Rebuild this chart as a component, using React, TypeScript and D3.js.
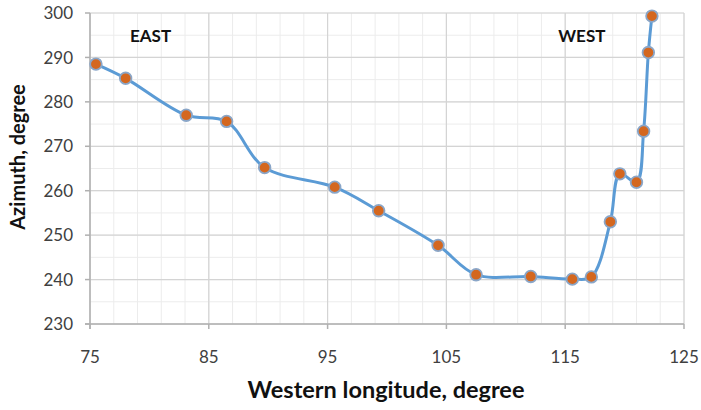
import React from "react";
import * as d3 from "d3";

const longitude = [75.5, 78.0, 83.1, 86.5, 89.7, 95.6, 99.3, 104.3, 107.5, 112.1, 115.6, 117.2, 118.8, 119.6, 121.0, 121.6, 122.0, 122.3];
const azimuth = [288.5, 285.3, 277.0, 275.6, 265.2, 260.8, 255.5, 247.7, 241.1, 240.7, 240.1, 240.6, 253.0, 263.8, 261.9, 273.4, 291.1, 299.3];
const xTicks = [75, 85, 95, 105, 115, 125];
const yTicks = [230, 240, 250, 260, 270, 280, 290, 300];
const regionLabels = [
  { text: "EAST", x: 80.1 },
  { text: "WEST", x: 116.4 },
];

const W = 701, H = 410;
const left = 90, right = 684, top = 13, bottom = 324;

export default function App() {
  const x = d3.scaleLinear().domain([75, 125]).range([left, right]);
  const y = d3.scaleLinear().domain([230, 300]).range([bottom, top]);
  const xMinor = d3.range(75, 125.01, 2);
  const yMinor = d3.range(230, 300.01, 5);
  const pts: [number, number][] = longitude.map((v, i) => [v, azimuth[i]]);
  const line = d3
    .line<[number, number]>()
    .x((d) => x(d[0]))
    .y((d) => y(d[1]))
    .curve(d3.curveCatmullRom.alpha(0.5));
  const font = "Lato, 'Open Sans', sans-serif";
  return (
    <svg width={W} height={H} style={{ position: "absolute", left: 0, top: 0, background: "#fff" }} fontFamily={font}>
      {xMinor.map((v) => (
        <line key={"xm" + v} x1={x(v)} x2={x(v)} y1={top} y2={bottom} stroke="#ececec" strokeWidth={1} />
      ))}
      {yMinor.map((v) => (
        <line key={"ym" + v} x1={left} x2={right} y1={y(v)} y2={y(v)} stroke="#ececec" strokeWidth={1} />
      ))}
      {xTicks.map((v) => (
        <line key={"xg" + v} x1={x(v)} x2={x(v)} y1={top} y2={bottom} stroke="#d4d4d4" strokeWidth={1.2} />
      ))}
      {yTicks.map((v) => (
        <line key={"yg" + v} x1={left} x2={right} y1={y(v)} y2={y(v)} stroke="#d4d4d4" strokeWidth={1.2} />
      ))}
      <line x1={left} x2={left} y1={top} y2={bottom + 5} stroke="#b0b0b0" strokeWidth={1.5} />
      <line x1={left - 5} x2={right} y1={bottom} y2={bottom} stroke="#b0b0b0" strokeWidth={1.5} />
      {yTicks.map((v) => (
        <line key={"yt" + v} x1={left - 5} x2={left} y1={y(v)} y2={y(v)} stroke="#b0b0b0" strokeWidth={1.5} />
      ))}
      {xTicks.map((v) => (
        <line key={"xt" + v} x1={x(v)} x2={x(v)} y1={bottom} y2={bottom + 5} stroke="#b0b0b0" strokeWidth={1.5} />
      ))}
      {yTicks.map((v) => (
        <text key={"yl" + v} x={73} y={y(v)} dy="0.36em" textAnchor="end" fontSize={17} fill="#404040">
          {v}
        </text>
      ))}
      {xTicks.map((v) => (
        <text key={"xl" + v} x={x(v)} y={363} textAnchor="middle" fontSize={17} fill="#404040">
          {v}
        </text>
      ))}
      <text x={386} y={398} textAnchor="middle" fontSize={23.5} fontWeight="bold" fill="#111">
        Western longitude, degree
      </text>
      <text transform={`translate(25,${157}) rotate(-90)`} textAnchor="middle" fontSize={20} fontWeight="bold" fill="#111">
        Azimuth, degree
      </text>
      {regionLabels.map((r) => (
        <text key={r.text} x={x(r.x)} y={42} textAnchor="middle" fontSize={17} fontWeight="bold" fill="#111">
          {r.text}
        </text>
      ))}
      <path d={line(pts) || ""} fill="none" stroke="#5b9bd5" strokeWidth={3} />
      {pts.map((p, i) => (
        <circle key={i} cx={x(p[0])} cy={y(p[1])} r={5.8} fill="#d4671f" stroke="#8aa6c8" strokeWidth={1.8} />
      ))}
    </svg>
  );
}
